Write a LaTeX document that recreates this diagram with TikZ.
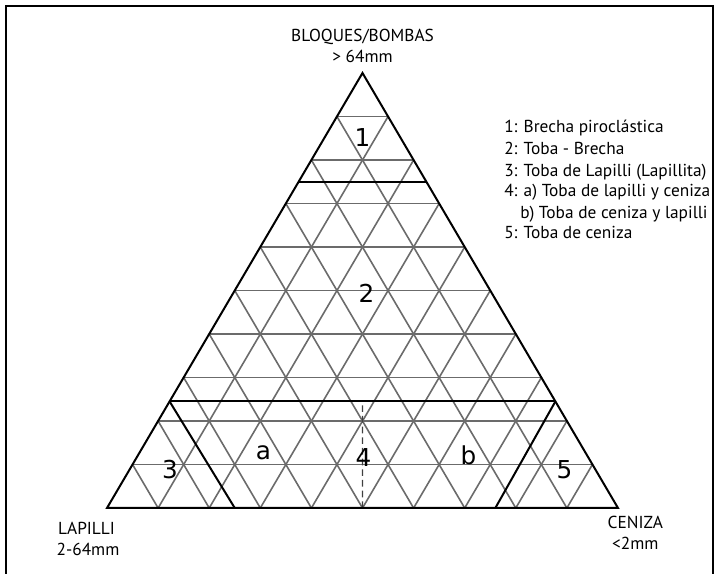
\documentclass[tikz,border=0pt]{standalone}
\usepackage{fontspec}
\setmainfont{PT Sans}
\newfontfamily\numfont{DejaVu Sans}
\usetikzlibrary{calc}
\begin{document}
\begin{tikzpicture}[x=0.75pt,y=-0.75pt,
  gridline/.style={draw=black!58, line width=1.2pt},
  boldline/.style={draw=black, line width=1.5pt},
  lbl/.style={font=\fontsize{13}{15}\selectfont, inner sep=0},
  big/.style={font=\numfont\fontsize{18.5}{20}\selectfont, inner sep=0}]
\useasboundingbox (0,0) rectangle (719,574);
\draw[line width=1.5pt] (6,574) -- (6,6) -- (713,6) -- (713,574);
\coordinate (A) at (362.5,73);
\coordinate (L) at (107,508);
\coordinate (C) at (618,508);
\foreach \t in {0.1,0.2,...,0.95} {
  \draw[gridline] ($(L)!\t!(A)$) -- ($(C)!\t!(A)$);
  \draw[gridline] ($(L)!\t!(A)$) -- ($(L)!\t!(C)$);
  \draw[gridline] ($(C)!\t!(A)$) -- ($(C)!\t!(L)$);
}
\coordinate (p1) at ($(L)!0.75!(A)$);
\coordinate (p2) at ($(C)!0.75!(A)$);
\coordinate (q1) at ($(L)!0.245!(A)$);
\coordinate (q2) at ($(C)!0.245!(A)$);
\coordinate (r1) at ($(L)!0.25!(C)$);
\coordinate (r2) at ($(C)!0.24!(L)$);
\coordinate (m) at ($(L)!0.5!(C)$);
\coordinate (mq) at ($(q1)!0.5!(q2)$);
\draw[boldline] (p1) -- (p2);
\draw[boldline] (q1) -- (q2);
\draw[boldline] (q1) -- (r1);
\draw[boldline] (q2) -- (r2);
\draw[draw=black!75, line width=1.1pt, dash pattern=on 5pt off 3pt] (m) -- (mq);
\draw[boldline, line join=miter] (A) -- (L) -- (C) -- cycle;
% region labels
\node[big] (n1) at (362.5,138) {1};
\node[big] (n2) at (366.5,293) {2};
\node[big] (n3) at (170,470) {3};
\node[big] (na) at (263.5,453) {a};
\node[big] (n4) at (363.5,458) {4};
\node[big] (nb) at (468.5,455.5) {b};
\node[big] (n5) at (564.5,470) {5};
% vertex labels
\node[lbl, anchor=base] (t1) at (362.5,41.7) {BLOQUES/BOMBAS};
\node[lbl, anchor=base] (t2) at (362.5,62.7) {> 64mm};
\node[lbl, anchor=base] (l1) at (86.5,534.3) {LAPILLI};
\node[lbl, anchor=base] (l2) at (88,555.5) {2-64mm};
\node[lbl, anchor=base] (c1) at (635.3,528.3) {CENIZA};
\node[lbl, anchor=base] (c2) at (635.3,549.3) {<2mm};
% legend
\node[lbl, anchor=base west] (g1) at (504,133) {1: Brecha piroclástica};
\node[lbl, anchor=base west] (g2) at (504,154.2) {2: Toba - Brecha};
\node[lbl, anchor=base west] (g3) at (504,176.2) {3: Toba de Lapilli (Lapillita)};
\node[lbl, anchor=base west] (g4) at (504,197) {4: a) Toba de lapilli y ceniza};
\node[lbl, anchor=base west] (g5) at (520,218.2) {b) Toba de ceniza y lapilli};
\node[lbl, anchor=base west] (g6) at (504,239) {5: Toba de ceniza};
\end{tikzpicture}
\end{document}
